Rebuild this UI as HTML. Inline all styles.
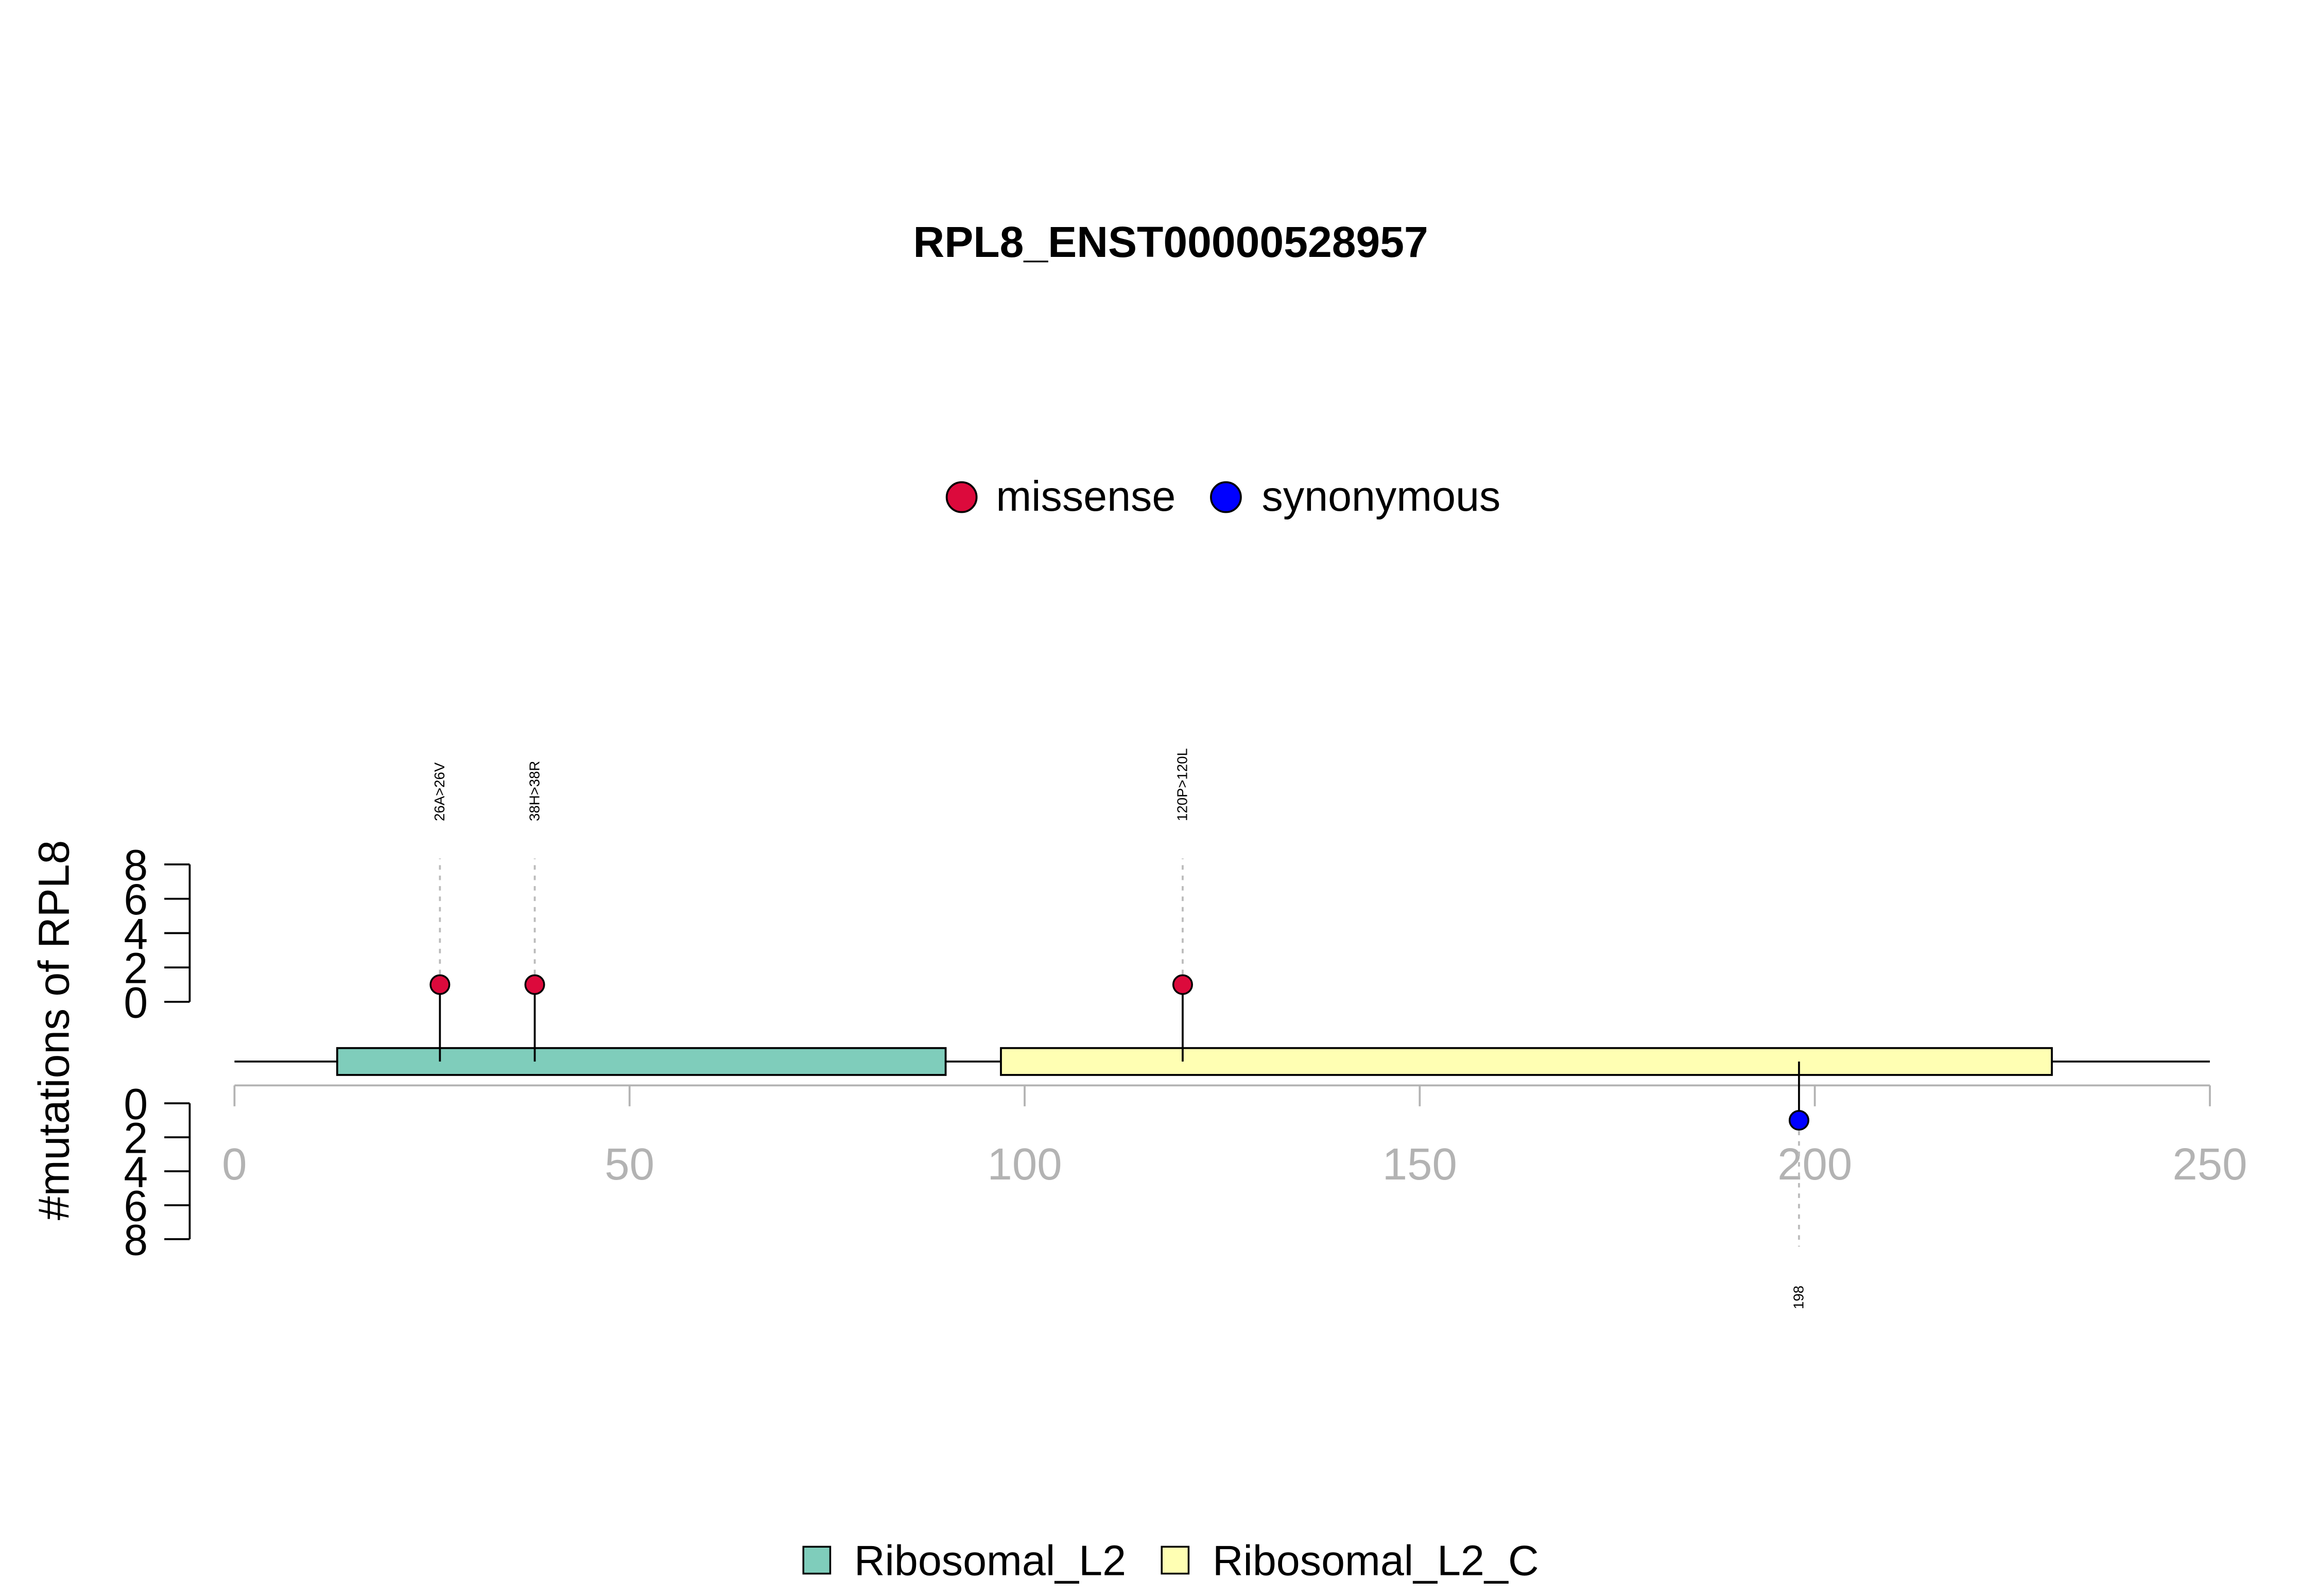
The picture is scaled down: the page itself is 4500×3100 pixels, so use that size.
<!DOCTYPE html>
<html><head><meta charset="utf-8"><style>
html,body{margin:0;padding:0;background:#fff;}
svg{display:block;font-family:"Liberation Sans",Arial,sans-serif;}
</style></head><body>
<svg id="chart" width="4500" height="3100" viewBox="0 0 1551.7 1069" xmlns="http://www.w3.org/2000/svg">
<rect x="0" y="0" width="1551.7" height="1069" fill="#fff"/>
<text x="784" y="172" text-anchor="middle" font-size="29" font-weight="bold">RPL8_ENST00000528957</text>
<g>
<circle cx="644" cy="333" r="10" fill="#dc0a3c" stroke="#000" stroke-width="1.3"/>
<text x="667" y="342" font-size="28.5">missense</text>
<circle cx="821" cy="333" r="10" fill="#0000ff" stroke="#000" stroke-width="1.3"/>
<text x="845" y="342" font-size="28.5">synonymous</text>
</g>
<text transform="translate(46,690) rotate(-90)" text-anchor="middle" font-size="29">#mutations of RPL8</text>
<g id="plot"></g>
<g>
<rect x="538" y="1036" width="18" height="18" fill="#7fcdbb" stroke="#000" stroke-width="1.2"/>
<text x="572" y="1055" font-size="28.5">Ribosomal_L2</text>
<rect x="778" y="1036" width="18" height="18" fill="#ffffb3" stroke="#000" stroke-width="1.2"/>
<text x="812" y="1055" font-size="28.5">Ribosomal_L2_C</text>
</g>
</svg>
<script>
const xTicks = [0, 50, 100, 150, 200, 250];
const yTicks = [0, 2, 4, 6, 8];
const domainNames = ["Ribosomal_L2", "Ribosomal_L2_C"];
const domainStarts = [13, 97];
const domainEnds = [90, 230];
const domainColors = ["#7fcdbb", "#ffffb3"];
const mutPositions = [26, 38, 120, 198];
const mutCounts = [1, 1, 1, 1];
const mutTypes = ["missense", "missense", "missense", "synonymous"];
const mutLabels = ["26A>26V", "38H>38R", "120P>120L", "198"];

const NS = "http://www.w3.org/2000/svg";
const plot = document.getElementById("plot");
const X0 = 157, X1 = 1480, LEN = 250;
const xs = v => X0 + (v / LEN) * (X1 - X0);
const UP0 = 671, UP8 = 579, DN0 = 739, DN8 = 830;
const yUp = v => UP0 + (v / 8) * (UP8 - UP0);
const yDn = v => DN0 + (v / 8) * (DN8 - DN0);
const BACK = 711;
function mk(tag, attrs, parent) {
  const e = document.createElementNS(NS, tag);
  for (const k in attrs) e.setAttribute(k, attrs[k]);
  (parent || plot).appendChild(e);
  return e;
}
let ax = mk("g", {});


mk("line", {x1: xs(0), x2: xs(LEN), y1: 727, y2: 727, stroke: "#b3b3b3", "stroke-width": 1.3}, ax);
xTicks.forEach(t => {
  mk("line", {x1: xs(t), x2: xs(t), y1: 727, y2: 741, stroke: "#b3b3b3", "stroke-width": 1.3}, ax);
  const tx = mk("text", {x: xs(t), y: 790, "text-anchor": "middle", "font-size": 30, fill: "#b3b3b3"}, ax);
  tx.textContent = t;
  
  
});
function yAxis(fn, name) {
  const g = mk("g", {});
  
  
  mk("line", {x1: 127, x2: 127, y1: fn(0), y2: fn(8), stroke: "#000", "stroke-width": 1.3}, g);
  yTicks.forEach(t => {
    mk("line", {x1: 110, x2: 127, y1: fn(t), y2: fn(t), stroke: "#000", "stroke-width": 1.3}, g);
    const tx = mk("text", {x: 99, y: fn(t) + 10.5, "text-anchor": "end", "font-size": 29}, g);
    tx.textContent = t;
    
    
  });
}
yAxis(yUp, "upper-y-axis");
yAxis(yDn, "lower-y-axis");
const bb = mk("line", {x1: xs(0), x2: xs(LEN), y1: BACK, y2: BACK, stroke: "#000", "stroke-width": 1.3});


domainNames.forEach((n, i) => {
  const r = mk("rect", {x: xs(domainStarts[i]), y: 702, width: xs(domainEnds[i]) - xs(domainStarts[i]), height: 18, fill: domainColors[i], stroke: "#000", "stroke-width": 1.3});
  
  
});
mutPositions.forEach((p, i) => {
  const up = mutTypes[i] === "missense";
  const fn = up ? yUp : yDn;
  const cy = fn(mutCounts[i]);
  const x = xs(p);
  const g = mk("g", {});
  
  
  mk("line", {x1: x, x2: x, y1: cy, y2: up ? 575 : 835, stroke: "#bbb", "stroke-width": 1.3, "stroke-dasharray": "3,4"}, g);
  mk("line", {x1: x, x2: x, y1: BACK, y2: cy, stroke: "#000", "stroke-width": 1.3}, g);
  mk("circle", {cx: x, cy: cy, r: 6.3, fill: up ? "#dc0a3c" : "#0000ff", stroke: "#000", "stroke-width": 1.2}, g);
  const t = mk("text", {transform: up ? `translate(${x + 3},550) rotate(-90)` : `translate(${x + 3},869) rotate(-90)`, "text-anchor": up ? "start" : "middle", "font-size": 9.5}, g);
  t.textContent = mutLabels[i];
  
  
});
</script>
</body></html>
